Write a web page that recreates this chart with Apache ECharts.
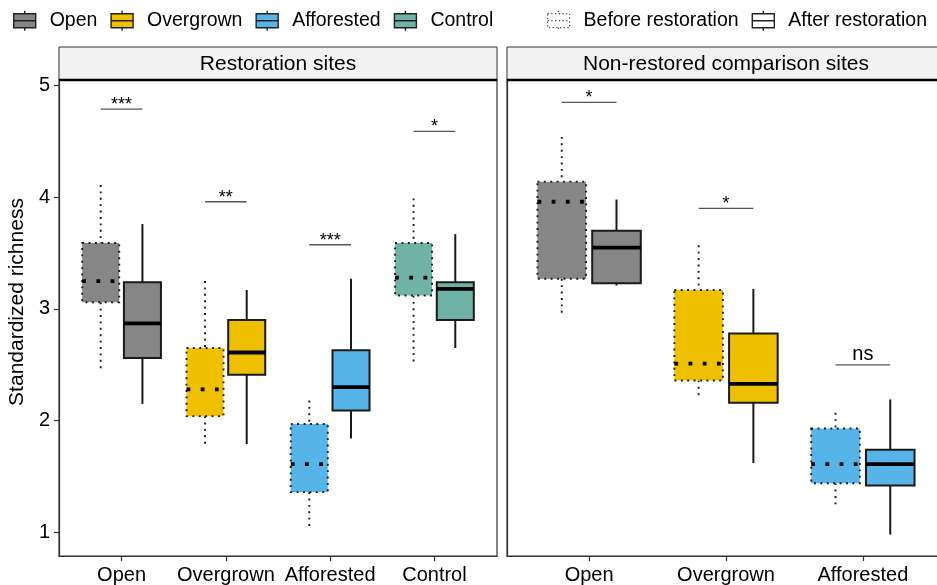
<!DOCTYPE html>
<html><head><meta charset="utf-8">
<script src="https://cdn.jsdelivr.net/npm/echarts@6/dist/echarts.min.js"></script>
<style>html,body{margin:0;padding:0;background:#fff}#c{width:937px;height:585px}</style>
</head><body><div id="c"></div>
<script>
// ---- data ----
const restCats = ['Open', 'Overgrown', 'Afforested', 'Control'];
const compCats = ['Open', 'Overgrown', 'Afforested'];
const yTicks = [1, 2, 3, 4, 5];
// [lower whisker, Q1, median, Q3, upper whisker]
const restBefore = {
  Open:       [2.47, 3.06, 3.25, 3.59, 4.11],
  Overgrown:  [1.77, 2.04, 2.28, 2.65, 3.25],
  Afforested: [1.02, 1.36, 1.61, 1.97, 2.18],
  Control:    [2.53, 3.12, 3.28, 3.59, 3.99]
};
const restAfter = {
  Open:       [2.15, 2.56, 2.87, 3.24, 3.76],
  Overgrown:  [1.79, 2.41, 2.61, 2.90, 3.17],
  Afforested: [1.84, 2.09, 2.30, 2.63, 3.27],
  Control:    [2.65, 2.90, 3.18, 3.24, 3.67]
};
const compBefore = {
  Open:       [2.94, 3.27, 3.96, 4.14, 4.54],
  Overgrown:  [2.21, 2.36, 2.51, 3.17, 3.57],
  Afforested: [1.24, 1.44, 1.61, 1.93, 2.07]
};
const compAfter = {
  Open:       [3.21, 3.23, 3.55, 3.70, 3.98],
  Overgrown:  [1.62, 2.16, 2.33, 2.78, 3.18],
  Afforested: [0.98, 1.42, 1.61, 1.74, 2.19]
};
const restSigLabels = ['***', '**', '***', '*'];
const restSigY = [4.79, 3.96, 3.575, 4.59];
const compSigLabels = ['*', '*', 'ns'];
const compSigY = [4.85, 3.90, 2.50];
const phaseNames = ['Before restoration', 'After restoration'];
const panelTitles = ['Restoration sites', 'Non-restored comparison sites'];

// ---- styles ----
const colors = { Open: '#868686', Overgrown: '#EFC000', Afforested: '#56B4E9', Control: '#6FB3A6' };
const FONT = "'Liberation Sans', Arial, Helvetica, sans-serif";
const INK = '#000';
const BOX_W = 0.355, DODGE = 0.2;

function boxRenderer(color) {
  return function (params, api) {
    const x = api.value(0);
    const before = api.value(6) === 0;
    const hw = api.size([BOX_W, 0])[0] / 2;
    const P = i => api.coord([x, api.value(i)]);
    const cx = P(1)[0];
    const yLo = P(1)[1], yQ1 = P(2)[1], yMed = P(3)[1], yQ3 = P(4)[1], yHi = P(5)[1];
    const stroke = '#1a1a1a';
    const lw = before ? 1.9 : 2;
    const dash = before ? [1.9, 4.5] : null;
    const medDash = before ? [3.8, 10.4] : null;
    return {
      type: 'group',
      children: [
        { type: 'line', shape: { x1: cx, y1: yHi, x2: cx, y2: yQ3 }, style: { stroke, lineWidth: lw, lineDash: dash } },
        { type: 'line', shape: { x1: cx, y1: yQ1, x2: cx, y2: yLo }, style: { stroke, lineWidth: lw, lineDash: dash } },
        { type: 'rect', shape: { x: cx - hw, y: yQ3, width: 2 * hw, height: yQ1 - yQ3 }, style: { fill: color, stroke, lineWidth: lw, lineDash: dash } },
        { type: 'line', shape: { x1: cx - hw, y1: yMed, x2: cx + hw, y2: yMed }, style: { stroke: '#000', lineWidth: 3.8, lineDash: medDash } }
      ]
    };
  };
}

function sigRenderer(labels) {
  return function (params, api) {
    const x = api.value(0), y = api.value(1);
    const p1 = api.coord([x - DODGE, y]);
    const p2 = api.coord([x + DODGE, y]);
    const lab = labels[params.dataIndex];
    const star = lab !== 'ns';
    return {
      type: 'group',
      children: [
        { type: 'line', shape: { x1: p1[0], y1: p1[1], x2: p2[0], y2: p2[1] }, style: { stroke: '#555', lineWidth: 1.3 } },
        { type: 'text', x: (p1[0] + p2[0]) / 2, y: p1[1] + (star ? 5 : 0),
          style: { text: lab, fill: INK, fontFamily: FONT, fontSize: star ? 18 : 20, align: 'center', verticalAlign: 'bottom' } }
      ]
    };
  };
}

const series = [];
function addPanel(panel, cats, before, after) {
  cats.forEach((c, i) => {
    const pos = i + 1;
    series.push({
      type: 'custom', name: c, xAxisIndex: panel, yAxisIndex: panel,
      itemStyle: { color: colors[c] },
      encode: { x: 0, y: [1, 2, 3, 4, 5] },
      renderItem: boxRenderer(colors[c]),
      data: [
        [pos - DODGE].concat(before[c], [0]),
        [pos + DODGE].concat(after[c], [1])
      ]
    });
  });
}
addPanel(0, restCats, restBefore, restAfter);
addPanel(1, compCats, compBefore, compAfter);
series.push({
  type: 'custom', name: 'sig0', xAxisIndex: 0, yAxisIndex: 0, renderItem: sigRenderer(restSigLabels),
  encode: { x: 0, y: 1 }, data: restSigY.map((y, i) => [i + 1, y])
});
series.push({
  type: 'custom', name: 'sig1', xAxisIndex: 1, yAxisIndex: 1, renderItem: sigRenderer(compSigLabels),
  encode: { x: 0, y: 1 }, data: compSigY.map((y, i) => [i + 1, y])
});
phaseNames.forEach(n => series.push({ type: 'custom', name: n, xAxisIndex: 0, yAxisIndex: 0, renderItem: () => null, data: [] }));

const GLYPH = 'path://M11,0 L11,3 M0,3 L22,3 L22,17 L0,17 Z M0,10 L22,10 M11,17 L11,20';

function xAxis(idx, cats) {
  const ticks = cats.map((c, i) => i + 1);
  return {
    type: 'value', gridIndex: idx, min: 0.4, max: cats.length + 0.6,
    splitLine: { show: false },
    axisLine: { show: true, lineStyle: { color: '#333', width: 1.2 } },
    axisTick: { show: true, customValues: ticks, length: 5, lineStyle: { color: '#333', width: 1.2 } },
    axisLabel: { customValues: ticks, formatter: v => cats[Math.round(v) - 1], fontSize: 20, fontFamily: FONT, color: INK, margin: 9 }
  };
}
function yAxis(idx, showLabels) {
  return {
    type: 'value', gridIndex: idx, min: 0.788, max: 5.05,
    splitLine: { show: false },
    axisLine: { show: true, lineStyle: { color: '#333', width: 1.2 } },
    axisTick: { show: showLabels, customValues: yTicks, length: 5, lineStyle: { color: '#333', width: 1.2 } },
    axisLabel: { show: showLabels, customValues: yTicks, fontSize: 20, fontFamily: FONT, color: INK, margin: 9 }
  };
}

const option = {
  animation: false,
  backgroundColor: '#fff',
  grid: [
    { left: 59, top: 80, width: 438, height: 476, show: true, borderColor: '#333', borderWidth: 1.2, outerBoundsMode: 'none' },
    { left: 507, top: 80, width: 438, height: 476, show: true, borderColor: '#333', borderWidth: 1.2, outerBoundsMode: 'none' }
  ],
  xAxis: [xAxis(0, restCats), xAxis(1, compCats)],
  yAxis: [yAxis(0, true), yAxis(1, false)],
  legend: [
    {
      left: 13, top: 10, padding: 0, itemWidth: 22, itemHeight: 20, itemGap: 13, icon: GLYPH, selectedMode: false,
      textStyle: { fontSize: 19.5, fontFamily: FONT, color: INK, padding: [0, 0, 0, 9] },
      data: restCats.map(c => ({ name: c, itemStyle: { color: colors[c], borderColor: '#222', borderWidth: 1.4 } }))
    },
    {
      left: 547, top: 10, padding: 0, itemWidth: 22, itemHeight: 20, itemGap: 13, icon: GLYPH, selectedMode: false,
      textStyle: { fontSize: 19.5, fontFamily: FONT, color: INK, padding: [0, 0, 0, 9] },
      data: [
        { name: phaseNames[0], itemStyle: { color: '#fff', borderColor: '#444', borderWidth: 1.2, borderType: [1.2, 2.5] } },
        { name: phaseNames[1], itemStyle: { color: '#fff', borderColor: '#222', borderWidth: 1.4 } }
      ]
    }
  ],
  graphic: [
    { type: 'rect', shape: { x: 59, y: 47, width: 438, height: 33 }, style: { fill: '#F2F2F2', stroke: '#333', lineWidth: 1 }, z: 0 },
    { type: 'rect', shape: { x: 507, y: 47, width: 440, height: 33 }, style: { fill: '#F2F2F2', stroke: '#333', lineWidth: 1 }, z: 0 },
    { type: 'line', shape: { x1: 59, y1: 80, x2: 497, y2: 80 }, style: { stroke: '#000', lineWidth: 2.5 }, z: 10 },
    { type: 'line', shape: { x1: 507, y1: 80, x2: 945, y2: 80 }, style: { stroke: '#000', lineWidth: 2.5 }, z: 10 },
    { type: 'text', x: 278, y: 64, style: { text: panelTitles[0], fontSize: 21, fontFamily: FONT, fill: INK, align: 'center', verticalAlign: 'middle' }, z: 10 },
    { type: 'text', x: 726, y: 64, style: { text: panelTitles[1], fontSize: 21, fontFamily: FONT, fill: INK, align: 'center', verticalAlign: 'middle' }, z: 10 },
    { type: 'text', x: 17, y: 302, rotation: Math.PI / 2, style: { text: 'Standardized richness', fontSize: 21, fontFamily: FONT, fill: INK, align: 'center', verticalAlign: 'middle' }, z: 10 }
  ],
  series
};
const chart = echarts.init(document.getElementById('c'));
chart.setOption(option);
</script></body></html>
